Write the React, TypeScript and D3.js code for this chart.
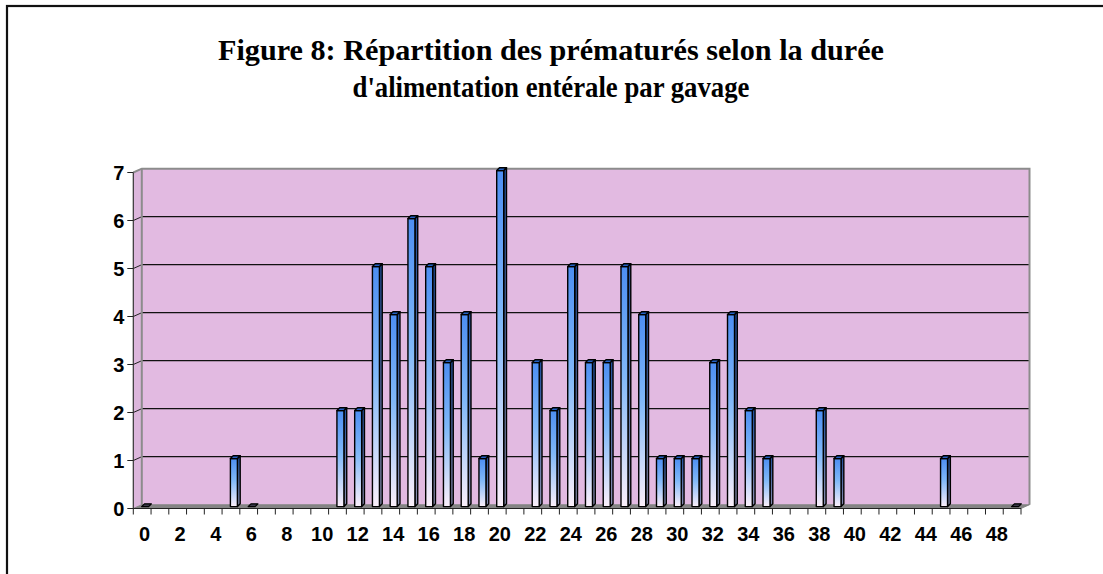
import React from "react";
import * as d3 from "d3";

// durée d'alimentation (jours) -> nombre de prématurés
const categories = [
  0, 1, 2, 3, 4, 5, 6, 7, 8, 9, 10, 11, 12, 13, 14, 15, 16, 17, 18, 19, 20, 21, 22, 23, 24,
  25, 26, 27, 28, 29, 30, 31, 32, 33, 34, 35, 36, 37, 38, 39, 40, 41, 42, 43, 44, 45, 46, 47, 48, 49,
];
const durations = [0, 5, 6, 11, 12, 13, 14, 15, 16, 17, 18, 19, 20, 22, 23, 24, 25, 26, 27, 28, 29, 30, 31, 32, 33, 34, 35, 38, 39, 45, 49];
const counts = [0, 1, 0, 2, 2, 5, 4, 6, 5, 3, 4, 1, 7, 3, 2, 5, 3, 3, 5, 4, 1, 1, 1, 3, 4, 2, 1, 2, 1, 1, 0];
const xTickLabels = [0, 2, 4, 6, 8, 10, 12, 14, 16, 18, 20, 22, 24, 26, 28, 30, 32, 34, 36, 38, 40, 42, 44, 46, 48];
const yTicks = [0, 1, 2, 3, 4, 5, 6, 7];

const titleLines = [
  "Figure 8: Répartition des prématurés selon la durée",
  "d'alimentation entérale par gavage",
];
const titleWidths = [666, 397];

const W = 1103;
const H = 574;

// front plane of the 3D box
const left = 133.3;
const right = 1021;
const bottom = 508.5;
const top = 172.5;
// depth offset of the back wall
const depthX = 8.5;
const depthY = -3.8;

const App = () => {
  const x = d3.scaleBand<number>().domain(categories).range([left, right]).padding(0);
  const y = d3.scaleLinear().domain([0, 7]).range([bottom, top]);
  const bw = x.bandwidth();

  const backX0 = left + depthX;
  const backX1 = right + depthX;
  const yBack = (v: number) => y(v) + depthY;
  const yMid = (v: number) => y(v) + depthY / 2;

  const font = "'Liberation Sans', Arial, sans-serif";

  const bars = durations.map((d, i) => ({ d, v: counts[i] }));
  const faceW = 7;
  const sideW = 2.8;

  return (
    <svg width={W} height={H} style={{ position: "absolute", left: 0, top: 0, background: "#fff" }}>
      <defs>
        <linearGradient id="front" x1="0" y1="0" x2="0" y2="1">
          <stop offset="0%" stopColor="#4d8ef2" />
          <stop offset="45%" stopColor="#80b8f8" />
          <stop offset="100%" stopColor="#fbeffa" />
        </linearGradient>
        <linearGradient id="side" x1="0" y1="0" x2="0" y2="1">
          <stop offset="0%" stopColor="#1f4f9c" />
          <stop offset="100%" stopColor="#8a8fb0" />
        </linearGradient>
      </defs>

      {/* outer frame */}
      <rect x={7} y={6} width={W + 20} height={H + 20} fill="none" stroke="#111" strokeWidth={2.2} />

      {/* title */}
      {titleLines.map((t, i) => (
        <text
          key={i}
          x={551}
          y={60 + i * 37}
          textAnchor="middle"
          textLength={titleWidths[i]}
          lengthAdjust="spacingAndGlyphs"
          fontFamily="'Liberation Serif', 'Times New Roman', serif"
          fontWeight="bold"
          fontSize={29}
          fill="#000"
        >
          {t}
        </text>
      ))}

      {/* left wall */}
      <polygon
        points={`${left},${y(7)} ${backX0},${yBack(7)} ${backX0},${yBack(0)} ${left},${y(0)}`}
        fill="#dcb6dc"
      />
      {/* back wall */}
      <rect x={backX0} y={yBack(7)} width={backX1 - backX0} height={yBack(0) - yBack(7)} fill="#e2bae1" />
      {/* gridlines */}
      {yTicks.slice(1, 7).map((t) => (
        <g key={t}>
          <line x1={left} y1={y(t)} x2={backX0} y2={yBack(t)} stroke="#222" strokeWidth={1} />
          <line x1={backX0} y1={yBack(t)} x2={backX1} y2={yBack(t)} stroke="#111" strokeWidth={1.2} />
        </g>
      ))}
      {/* wall edges */}
      <polyline
        points={`${left},${y(7)} ${backX0},${yBack(7)} ${backX1},${yBack(7)} ${backX1},${yBack(0)}`}
        fill="none"
        stroke="#8c8c8c"
        strokeWidth={2}
      />
      <line x1={backX0} y1={yBack(7)} x2={backX0} y2={yBack(0)} stroke="#8c8c8c" strokeWidth={2} />
      {/* floor */}
      <polygon
        points={`${left},${y(0)} ${backX0},${yBack(0)} ${backX1},${yBack(0)} ${right},${y(0)}`}
        fill="#858585"
        stroke="#7a7a7a"
        strokeWidth={0.8}
      />

      {/* bars */}
      {bars.map(({ d, v }) => {
        const cx = (x(d) as number) + bw / 2 + depthX / 2;
        const x0 = cx - 4.8;
        const x1 = x0 + faceW;
        const yb = yMid(0);
        const yt = yMid(v);
        const topFace = `${x0},${yt} ${x1},${yt} ${x1 + sideW},${yt - sideW} ${x0 + sideW},${yt - sideW}`;
        if (v === 0) {
          return (
            <polygon key={d} points={topFace} fill="#3a3a4a" stroke="#000" strokeWidth={1.2} strokeLinejoin="round" />
          );
        }
        return (
          <g key={d} stroke="#000" strokeWidth={1.4} strokeLinejoin="round">
            <polygon points={`${x1},${yt} ${x1 + sideW},${yt - sideW} ${x1 + sideW},${yb - sideW} ${x1},${yb}`} fill="url(#side)" />
            <rect x={x0} y={yt} width={faceW} height={yb - yt} fill="url(#front)" />
            <polygon points={topFace} fill="#2361c4" />
          </g>
        );
      })}

      {/* y axis */}
      <line x1={left} y1={y(7)} x2={left} y2={y(0)} stroke="#333" strokeWidth={1.2} />
      {yTicks.map((t) => (
        <g key={t}>
          <line x1={left - 6} y1={y(t)} x2={left} y2={y(t)} stroke="#222" strokeWidth={1} />
          <text
            x={left - 9}
            y={y(t)}
            dy="0.36em"
            textAnchor="end"
            fontFamily={font}
            fontWeight="bold"
            fontSize={20}
            fill="#000"
          >
            {t}
          </text>
        </g>
      ))}

      {/* x axis */}
      <line x1={left} y1={bottom} x2={right} y2={bottom} stroke="#222" strokeWidth={1.2} />
      {categories.map((c) => (
        <line key={c} x1={x(c) as number} y1={bottom} x2={x(c) as number} y2={bottom + 6} stroke="#222" strokeWidth={1} />
      ))}
      <line x1={right} y1={bottom} x2={right} y2={bottom + 6} stroke="#222" strokeWidth={1} />
      {xTickLabels.map((t) => (
        <text
          key={t}
          x={(x(t) as number) + bw / 2 + 2.5}
          y={541}
          textAnchor="middle"
          fontFamily={font}
          fontWeight="bold"
          fontSize={20}
          fill="#000"
        >
          {t}
        </text>
      ))}
    </svg>
  );
};

export default App;
